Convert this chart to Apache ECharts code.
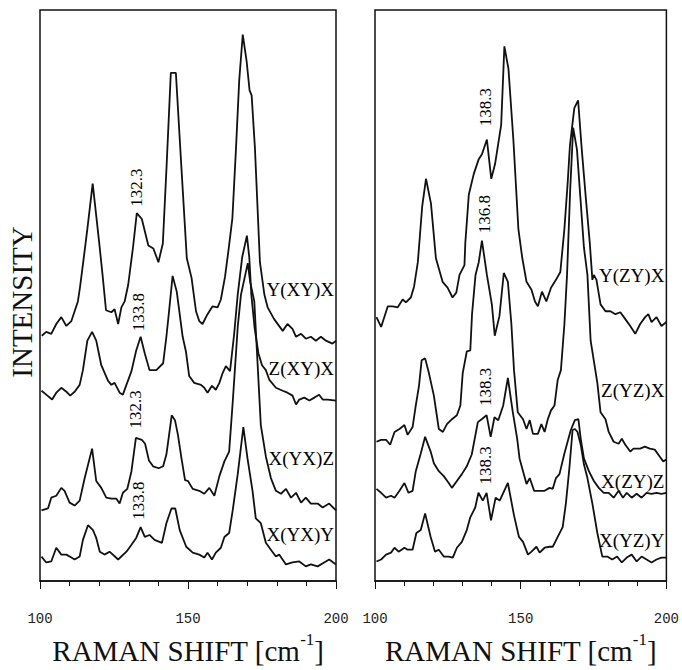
<!DOCTYPE html>
<html>
<head>
<meta charset="utf-8">
<script src="https://cdn.jsdelivr.net/npm/echarts@6/dist/echarts.min.js"></script>
<style>
  html, body { margin: 0; padding: 0; background: #fff; }
  #chart { width: 682px; height: 670px; }
</style>
</head>
<body>
<div id="chart"></div>
<script>
// spectra, [raman shift, intensity incl. stacking offset]
// left panel
const specYXYX = [[100.6,250],[102.1,254],[103.8,252],[105.5,262],[107.2,269],[108.9,260],[110.6,265],[111.7,275],[112.8,285],[113.5,299],[114.6,325],[116,359],[117.8,405],[118.9,375],[120,345],[121.2,310],[122.3,276],[124.1,274],[125.2,277],[126.4,262],[127.5,279],[128.6,285],[129.8,302],[131.5,342],[132.7,375],[134.4,369],[136.6,342],[138.3,339],[140,325],[141.5,344],[142.8,425],[144.2,518],[145.9,518],[147.9,415],[149.6,329],[151.2,309],[152.7,275],[153.8,265],[154.9,262],[156.6,272],[158.3,280],[160,279],[161.1,287],[162.5,310],[163.8,340],[165,370],[166.2,440],[167.3,510],[168.5,557],[169.8,530],[170.8,500],[171.5,495],[172.6,442],[174.3,325],[175.8,292],[176.9,279],[179.1,267],[182,255],[183.6,262],[185.3,257],[186.5,249],[188.2,252],[189.8,247],[191.5,249],[193.2,245],[194.9,249],[196.6,245],[198.8,242],[200,245]]
const specZXYX = [[100.5,194],[102.1,190],[104.1,185],[105.5,192],[107.2,197],[108.9,193],[110.2,189],[111.7,193],[113.4,200],[114.5,215],[116,245],[117.6,254],[119,245],[120.7,220],[123,204],[124.1,200],[125.2,202],[126.9,192],[128,190],[129.2,200],[130.9,214],[132.5,235],[134,249],[135.4,232],[137,215],[139.3,215],[141.6,222],[142.7,249],[143.6,275],[144.8,311],[146.2,295],[148.2,249],[149.3,234],[150.4,209],[152.1,202],[154.4,200],[155.5,197],[156.6,192],[158.1,199],[159.4,195],[160.6,202],[161.7,212],[162.8,219],[164.2,214],[165.6,252],[166.8,292],[168.3,330],[169.9,352],[170.7,330],[171.4,292],[172.5,258],[173.8,232],[175,220],[176.3,215],[177.5,205],[179.7,197],[182,194],[183.6,192],[185.3,189],[186.5,180],[187.6,185],[189.3,187],[191,184],[192.7,187],[194.3,190],[195.5,185],[197.2,185],[200,184]]
const specXYXZ = [[100.5,72],[102.7,74],[103.8,85],[105.5,87],[107.2,95],[108.3,92],[110,80],[111.7,77],[113.4,82],[115.1,105],[117.6,135],[119,102],[120.7,95],[122.4,85],[124.1,84],[125.8,84],[126.9,79],[128,90],[129.5,94],[130.9,112],[132.4,146],[134.4,144],[135.5,140],[136.8,123],[138.2,117],[140.1,115],[141.6,117],[142.7,129],[144.5,169],[145.6,164],[146.6,149],[147.8,125],[149,103],[150,102],[151.6,94],[153.8,92],[155.5,89],[157.2,95],[158.9,87],[160.6,107],[162.3,122],[163.9,132],[165.1,182],[166.8,259],[167.9,292],[170.2,324],[171,305],[172.4,285],[173.5,222],[174.6,159],[176.3,127],[178,105],[179.7,92],[181.4,89],[183.1,94],[184.8,85],[186.5,90],[188.2,80],[189.8,85],[191.5,79],[193.8,79],[195.5,75],[197.7,79],[200,72]]
const specXYXY = [[100.5,25],[102.1,19],[103.8,20],[105.5,34],[107.2,27],[108.9,27],[110.6,24],[111.7,22],[113.4,25],[114.5,42],[116.2,57],[117.9,52],[119,44],[120.2,30],[121.8,27],[123.5,30],[126.4,22],[129.2,30],[130.9,37],[132.5,44],[134,55],[135.4,45],[137,47],[138.7,42],[141.2,39],[142.7,59],[144.4,74],[145.7,74],[147.2,52],[149.4,35],[151.6,29],[153.8,27],[155.5,24],[156.6,29],[158.1,22],[159.4,29],[161.1,34],[162.3,45],[163.9,49],[165.1,72],[166.8,109],[168.7,157],[170.1,125],[171.8,92],[172.9,64],[174.6,59],[176.3,39],[178,32],[179.7,25],[180.8,27],[183.1,17],[185.3,19],[187.6,20],[189.8,15],[191.5,17],[193.8,15],[196,19],[197.7,22],[200,17]]
// right panel
const specYZYX = [[100.5,269],[102.1,259],[104.4,280],[106.1,280],[107.8,279],[109.5,287],[110.6,284],[112.3,289],[113.4,300],[114.7,325],[116.2,382],[117.5,410],[119.2,385],[120.9,329],[123.2,305],[124.9,299],[126.6,289],[127.9,294],[129,312],[130.7,322],[131,345],[132.2,394],[133.9,415],[135.6,430],[136.7,435],[138.4,450],[139.9,410],[141.2,425],[143.3,465],[144.4,545],[145.8,522],[147.5,449],[149.2,359],[150.5,330],[152,305],[153.7,297],[154.9,285],[155.9,280],[157.3,295],[158.8,285],[160.4,299],[162.1,307],[163.6,315],[165,359],[166.1,405],[166.9,444],[168.4,482],[169.7,490],[170.9,442],[172.3,392],[173.7,345],[174.6,307],[175.1,312],[176,307],[177.4,282],[179.1,275],[180.8,275],[182.5,272],[184.2,274],[185.9,267],[187.6,260],[189.3,252],[191,262],[192.7,269],[193.8,272],[194.9,264],[196.6,269],[198.3,260],[200,264]]
const specZYZX = [[100.5,142],[102.1,144],[103.8,144],[105.2,139],[106.7,152],[108.4,155],[110.1,159],[111.2,149],[112.9,157],[114,179],[115.1,199],[116,225],[117.2,227],[118.5,212],[120.2,189],[121.9,155],[123.3,152],[124.7,160],[126.4,165],[128.1,169],[129.3,179],[130.1,212],[131.5,234],[132.7,235],[133.3,272],[134.5,312],[135.6,325],[136.7,347],[138.4,312],[140.1,282],[141.1,250],[142.7,270],[144.2,314],[145.6,305],[146.8,262],[147.7,215],[149,172],[150.8,165],[152,155],[153.1,164],[154.2,150],[155.9,150],[157.1,160],[158.2,152],[159.3,165],[160.4,174],[161.6,179],[162.7,205],[163.8,215],[165,262],[165.9,312],[167,400],[168,462],[169.3,440],[170.5,390],[171.7,340],[172.9,312],[174,245],[176.3,202],[177.4,172],[179.1,165],[180.2,152],[181.9,142],[183.6,140],[184.7,145],[185.9,139],[187.6,132],[188.7,135],[191,135],[192.6,137],[194.3,135],[196,134],[197.7,127],[198.9,122],[200,124]]
const specXZYZ = [[100.5,94],[102.1,90],[103.8,85],[105.5,87],[106.7,85],[108.4,92],[110.1,100],[111.5,90],[112.9,92],[114,112],[115.7,130],[117.2,147],[119.1,132],[120.2,120],[121.9,112],[123.6,107],[125.3,100],[126.4,95],[128.1,102],[129.8,109],[131.5,117],[133.2,129],[135.3,162],[136.6,165],[138.3,169],[139.7,147],[141,167],[142.3,164],[144,179],[145.6,207],[147.3,172],[148.8,145],[149.6,125],[150.8,112],[152,99],[153.1,105],[154.6,92],[156.5,92],[158.2,92],[159.9,95],[161,94],[162.1,105],[163.3,109],[165,130],[166.1,142],[167.2,154],[168.6,164],[169.8,165],[170.6,145],[171.7,125],[173.4,112],[175.1,102],[176.8,95],[178.5,90],[180.2,90],[181.9,85],[183.6,92],[185.1,85],[186.4,90],[188.1,85],[189.8,89],[191.5,85],[193.2,90],[194.9,89],[196.6,90],[198.3,89],[200,90]]
const specXYZY = [[100.5,20],[102.1,22],[103.8,27],[105.5,29],[106.7,34],[108.1,30],[110.1,34],[111.2,32],[112.9,32],[114.2,49],[115.7,52],[117.2,69],[119.1,45],[120.6,30],[121.9,32],[123.6,25],[125.3,25],[126.7,24],[128.1,34],[129.8,40],[131.5,52],[132.7,65],[134.4,75],[135.5,90],[137,82],[138.3,90],[139.8,62],[141.4,85],[142.8,82],[145.6,100],[147.7,67],[149.4,45],[150.8,40],[152.5,27],[153.7,30],[155.4,35],[156.5,29],[158.2,34],[159.9,35],[161,35],[162.7,45],[164.4,55],[165.5,79],[166.7,115],[167.8,154],[168.6,155],[169.5,152],[170.6,139],[171.7,119],[172.9,105],[174.6,79],[176.3,49],[178,25],[179.7,25],[181.4,22],[183.1,25],[184.7,19],[186.4,24],[188.1,27],[189.8,20],[191.5,25],[193.2,22],[194.9,19],[196.6,22],[198.3,24],[200,24]]

// curve names and where they sit (y in data units, right-aligned at x = 200)
const namesLeft = ['Y(XY)X', 'Z(XY)X', 'X(YX)Z', 'X(YX)Y']
const nameYLeft = [297, 217, 125, 47]
const namesRight = ['Y(ZY)X', 'Z(YZ)X', 'X(ZY)Z', 'X(YZ)Y']
const nameYRight = [311, 194, 102, 41]

// peak annotations
const peaksLeft = ['132.3', '133.8', '132.3', '133.8']
const peakPosLeft = [[132.6, 401], [133.3, 274], [132.3, 175], [133.3, 82]]
const peaksRight = ['138.3', '136.8', '138.3', '138.3']
const peakPosRight = [[137.8, 483], [137.5, 374], [137.8, 198], [137.8, 118]]

const xTicks = [100, 150, 200]

const serif = 'Liberation Serif'
const ink = '#111'

const chart = echarts.init(document.getElementById('chart'), null, { renderer: 'svg' })

const makeX = (i) => ({
  type: 'value',
  gridIndex: i,
  min: 100,
  max: 200,
  interval: 50,
  axisLine: { show: true, onZero: false, lineStyle: { color: ink, width: 1.5 } },
  axisTick: { show: true, length: 8, lineStyle: { color: ink, width: 1 } },
  minorTick: { show: true, splitNumber: 5, length: 5, lineStyle: { color: ink, width: 1 } },
  splitLine: { show: false },
  axisLabel: {
    margin: 31,
    showMinLabel: true,
    showMaxLabel: true,
    fontFamily: 'Liberation Mono',
    fontSize: 14,
    color: '#222',
    formatter: (v) => (xTicks.includes(v) ? String(v) : '')
  },
  name: '{t|RAMAN SHIFT [cm}{s|-1}{t|]}',
  nameLocation: 'middle',
  nameGap: 47,
  nameTextStyle: {
    rich: {
      t: { fontFamily: serif, fontSize: 29, color: ink, verticalAlign: 'bottom', lineHeight: 34 },
      s: { fontFamily: serif, fontSize: 17, color: ink, verticalAlign: 'top', lineHeight: 34 }
    }
  }
})

const makeY = (i) => ({ type: 'value', gridIndex: i, min: 0, max: 582, show: false })

const lineSeries = (data, i) => ({
  type: 'line',
  xAxisIndex: i,
  yAxisIndex: i,
  data: data,
  showSymbol: false,
  silent: true,
  lineStyle: { color: ink, width: 1.8 },
  z: 2
})

const peakSeries = (texts, pos, i) => ({
  type: 'scatter',
  xAxisIndex: i,
  yAxisIndex: i,
  symbolSize: 0,
  silent: true,
  itemStyle: { color: ink },
  data: pos.map((p, k) => ({ value: p, label: { formatter: texts[k] } })),
  label: {
    show: true,
    position: 'inside',
    rotate: 90,
    fontFamily: serif,
    fontSize: 17,
    color: '#000',
    opacity: 1
  },
  z: 3
})

const nameSeries = (texts, ys, i) => ({
  type: 'scatter',
  xAxisIndex: i,
  yAxisIndex: i,
  symbolSize: 0,
  silent: true,
  itemStyle: { color: ink },
  data: ys.map((y, k) => ({ value: [200, y], label: { formatter: texts[k] } })),
  label: {
    show: true,
    position: 'left',
    distance: 2,
    fontFamily: serif,
    fontSize: 19,
    color: '#000',
    opacity: 1
  },
  z: 3
})

const option = {
  backgroundColor: '#fff',
  animation: false,
  grid: [
    { left: 40, top: 10, width: 296, height: 582, show: true, borderColor: ink, borderWidth: 1.5, backgroundColor: 'transparent' },
    { left: 375, top: 10, width: 295, height: 582, show: true, borderColor: ink, borderWidth: 1.5, backgroundColor: 'transparent' }
  ],
  xAxis: [makeX(0), makeX(1)],
  yAxis: [makeY(0), makeY(1)],
  graphic: [{
    type: 'text',
    x: 22,
    y: 302,
    rotation: Math.PI / 2,
    style: {
      text: 'INTENSITY',
      fontFamily: serif,
      fontSize: 29,
      fill: ink,
      align: 'center',
      verticalAlign: 'middle'
    }
  }],
  series: [
    lineSeries(specYXYX, 0),
    lineSeries(specZXYX, 0),
    lineSeries(specXYXZ, 0),
    lineSeries(specXYXY, 0),
    lineSeries(specYZYX, 1),
    lineSeries(specZYZX, 1),
    lineSeries(specXZYZ, 1),
    lineSeries(specXYZY, 1),
    peakSeries(peaksLeft, peakPosLeft, 0),
    peakSeries(peaksRight, peakPosRight, 1),
    nameSeries(namesLeft, nameYLeft, 0),
    nameSeries(namesRight, nameYRight, 1)
  ]
}

chart.setOption(option)
</script>
</body>
</html>
